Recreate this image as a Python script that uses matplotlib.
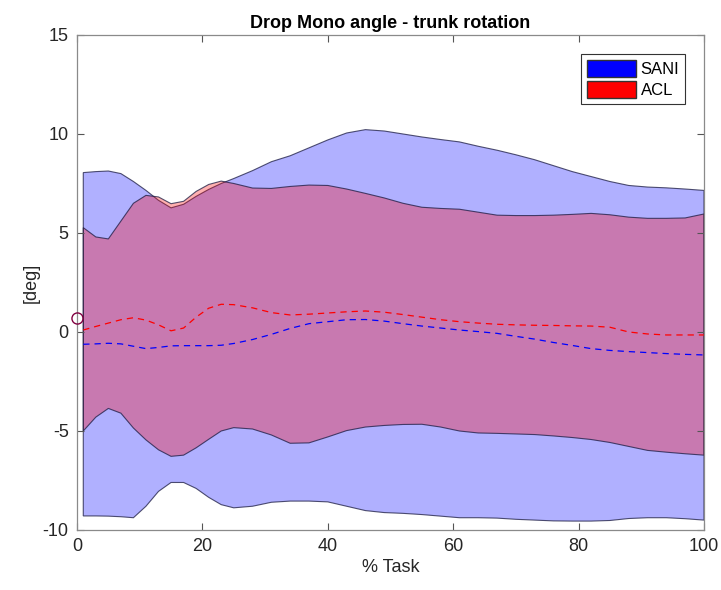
import matplotlib
matplotlib.use("Agg")
import matplotlib.pyplot as plt
from matplotlib.patches import Patch
import numpy as np

plt.rcParams['font.family'] = ['Liberation Sans', 'DejaVu Sans']
plt.rcParams['axes.unicode_minus'] = False

# % of task
t = [1, 3, 5, 7, 9, 11, 13, 15, 17, 19, 21, 23, 25, 28, 31, 34, 37, 40, 43, 46,
     49, 52, 55, 58, 61, 64, 67, 70, 73, 76, 79, 82, 85, 88, 91, 94, 97, 100]

# SANI group: mean +/- sd band (deg)
sani_upper = [8.05, 8.10, 8.13, 8.00, 7.60, 7.15, 6.65, 6.27, 6.45, 6.85, 7.20, 7.50, 7.75,
              8.15, 8.60, 8.90, 9.30, 9.70, 10.05, 10.22, 10.15, 10.00, 9.85, 9.72, 9.60,
              9.38, 9.18, 8.95, 8.70, 8.40, 8.10, 7.85, 7.60, 7.40, 7.32, 7.28, 7.22, 7.15]
sani_lower = [-9.29, -9.29, -9.30, -9.33, -9.38, -8.80, -8.05, -7.60, -7.60, -7.90, -8.35,
              -8.72, -8.88, -8.80, -8.60, -8.54, -8.54, -8.58, -8.80, -9.02, -9.12, -9.16,
              -9.22, -9.30, -9.38, -9.38, -9.40, -9.46, -9.50, -9.54, -9.55, -9.55, -9.52,
              -9.42, -9.38, -9.38, -9.43, -9.50]
sani_mean = [-0.62, -0.60, -0.57, -0.60, -0.72, -0.84, -0.78, -0.70, -0.69, -0.69, -0.69,
             -0.67, -0.58, -0.38, -0.12, 0.18, 0.42, 0.52, 0.62, 0.63, 0.55, 0.42, 0.30,
             0.20, 0.10, 0.02, -0.07, -0.22, -0.36, -0.53, -0.68, -0.84, -0.93, -0.99,
             -1.04, -1.09, -1.13, -1.16]

# ACL group: mean +/- sd band (deg)
acl_upper = [5.27, 4.80, 4.70, 5.60, 6.50, 6.90, 6.82, 6.48, 6.60, 7.10, 7.45, 7.62, 7.50,
             7.27, 7.25, 7.35, 7.42, 7.40, 7.22, 7.00, 6.77, 6.50, 6.30, 6.24, 6.20, 6.05,
             5.90, 5.88, 5.88, 5.90, 5.94, 5.99, 5.92, 5.80, 5.74, 5.74, 5.76, 5.96]
acl_lower = [-5.00, -4.30, -3.86, -4.10, -4.85, -5.45, -5.95, -6.28, -6.22, -5.85, -5.42,
             -5.00, -4.83, -4.90, -5.20, -5.62, -5.60, -5.30, -4.98, -4.80, -4.72, -4.67,
             -4.66, -4.80, -5.00, -5.10, -5.12, -5.15, -5.18, -5.25, -5.33, -5.43, -5.58,
             -5.78, -5.98, -6.07, -6.15, -6.22]
acl_mean = [0.10, 0.28, 0.45, 0.62, 0.72, 0.60, 0.36, 0.06, 0.20, 0.75, 1.20, 1.40, 1.38,
            1.22, 0.98, 0.86, 0.90, 0.96, 1.02, 1.06, 1.00, 0.88, 0.75, 0.62, 0.52, 0.45,
            0.39, 0.36, 0.34, 0.33, 0.31, 0.30, 0.24, 0.00, -0.10, -0.15, -0.15, -0.15]

# initial contact marker
ic_x = [0]
ic_y = [0.72]

fig = plt.figure(figsize=(7.21, 5.90), dpi=100)
ax = fig.add_axes([0.1068, 0.1017, 0.8696, 0.839])

edge = (0.1, 0.1, 0.25, 0.75)
ax.fill(np.concatenate([t, t[::-1]]), np.concatenate([sani_upper, sani_lower[::-1]]),
        facecolor=(0, 0, 1, 0.31), edgecolor=edge, linewidth=0.8)
ax.fill(np.concatenate([t, t[::-1]]), np.concatenate([acl_upper, acl_lower[::-1]]),
        facecolor=(1, 0, 0, 0.31), edgecolor=edge, linewidth=0.8)

ax.plot(t, sani_mean, color='b', linestyle=(0, (5, 4)), linewidth=0.9)
ax.plot(t, acl_mean, color='r', linestyle=(0, (5, 4)), linewidth=0.9)
ax.plot(ic_x, ic_y, 'o', markersize=8, markerfacecolor='none',
        markeredgecolor=(0.5, 0.0, 0.25), markeredgewidth=1.0, clip_on=False, zorder=5)

ax.set_xlim(0, 100)
ax.set_ylim(-10, 15)
ax.set_xticks([0, 20, 40, 60, 80, 100])
ax.set_yticks([-10, -5, 0, 5, 10, 15])

for s in ax.spines.values():
    s.set_color('#8a8a8a')
    s.set_linewidth(0.9)
ax.tick_params(direction='in', length=5, width=0.8, color='#555555',
               top=True, right=True, labelsize=13, labelcolor='#262626', pad=6)

ax.set_title('Drop Mono angle - trunk rotation', fontsize=13, fontweight='bold', pad=5)
ax.set_xlabel('% Task', fontsize=13, color='#262626', labelpad=3)
ax.set_ylabel('[deg]', fontsize=13, color='#262626', labelpad=2)

handles = [Patch(facecolor='b', edgecolor='#333333', label='SANI'),
           Patch(facecolor='r', edgecolor='#333333', label='ACL')]
leg = ax.legend(handles=handles, loc='upper right', bbox_to_anchor=(0.97, 0.962),
                borderaxespad=0, fontsize=12, handlelength=2.9, handleheight=1.2,
                handletextpad=0.3, labelspacing=0.25, borderpad=0.35,
                fancybox=False, framealpha=1)
leg.get_frame().set_edgecolor('#333333')
leg.get_frame().set_linewidth(0.8)

fig.savefig('out.png', dpi=100)
